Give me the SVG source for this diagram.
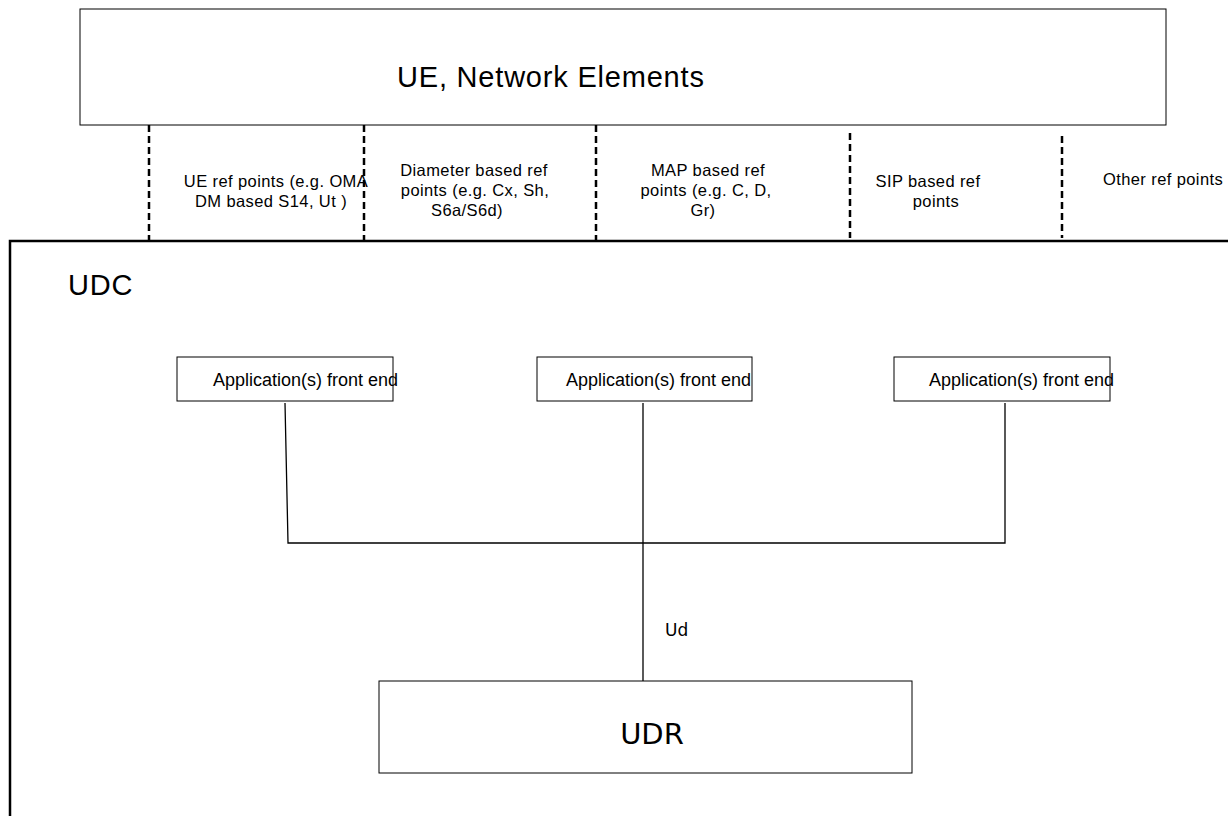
<svg xmlns="http://www.w3.org/2000/svg" width="1228" height="816" viewBox="0 0 1228 816">
<style>
.box{fill:#fff;stroke:#000;stroke-width:1}
.big{font-family:"Liberation Sans",Arial,sans-serif;font-size:29px;letter-spacing:0.8px;fill:#000}
.lbl{font-family:"Liberation Sans",Arial,sans-serif;font-size:16.5px;letter-spacing:0.4px;fill:#000}
.app{font-family:"Liberation Sans",Arial,sans-serif;font-size:18px;fill:#000}
.dv{font-family:"DejaVu Sans",sans-serif;fill:#000}
.dash{stroke:#000;stroke-width:2.5;stroke-dasharray:7 4;fill:none}
.ln{stroke:#000;stroke-width:1.3;fill:none}
</style>
<rect width="1228" height="816" fill="#fff"/>
<g id="ue-network-elements">
<rect class="box" x="80" y="9" width="1086" height="116"/>
<text class="big" x="397" y="87">UE, Network Elements</text>
</g>
<g id="udc">
<path d="M10,816 V241 H1228" fill="none" stroke="#000" stroke-width="2.5"/>
<text class="big" x="68" y="295">UDC</text>
</g>
<g id="ref-points">
<text class="lbl" text-anchor="middle"><tspan x="276" y="187">UE ref points (e.g. OMA</tspan><tspan x="271" y="207">DM based S14, Ut )</tspan></text>
<text class="lbl" text-anchor="middle"><tspan x="474" y="176">Diameter based ref</tspan><tspan x="475" y="196">points (e.g. Cx, Sh,</tspan><tspan x="467" y="216">S6a/S6d)</tspan></text>
<text class="lbl" text-anchor="middle"><tspan x="708" y="176">MAP based ref</tspan><tspan x="706" y="196">points (e.g. C, D,</tspan><tspan x="703" y="216">Gr)</tspan></text>
<text class="lbl" text-anchor="middle"><tspan x="928" y="187">SIP based ref</tspan><tspan x="936" y="207">points</tspan></text>
<text class="lbl" x="1103" y="185">Other ref points</text>
</g>
<g id="fe1">
<rect class="box" x="177" y="357" width="216" height="44"/>
<text class="app" x="213" y="386">Application(s) front end</text>
</g>
<g id="fe2">
<rect class="box" x="537" y="357" width="215" height="44"/>
<text class="app" x="566" y="386">Application(s) front end</text>
</g>
<g id="fe3">
<rect class="box" x="894" y="357" width="216" height="44"/>
<text class="app" x="929" y="386">Application(s) front end</text>
</g>
<g id="udr">
<rect class="box" x="379" y="681" width="533" height="92"/>
<text class="dv" x="652" y="744" font-size="29" text-anchor="middle">UDR</text>
</g>
<g id="connectors">
<line class="dash" x1="149" y1="125" x2="149" y2="241"/>
<line class="dash" x1="364" y1="125" x2="364" y2="241"/>
<line class="dash" x1="596" y1="125" x2="596" y2="241"/>
<line class="dash" x1="850" y1="133" x2="850" y2="238"/>
<line class="dash" x1="1062" y1="136" x2="1062" y2="238"/>
<path class="ln" d="M285,403 L288,543 H1005 V403"/>
<line class="ln" x1="643" y1="403" x2="643" y2="681"/>
<text class="dv" x="665" y="636" font-size="17">Ud</text>
</g>
</svg>
